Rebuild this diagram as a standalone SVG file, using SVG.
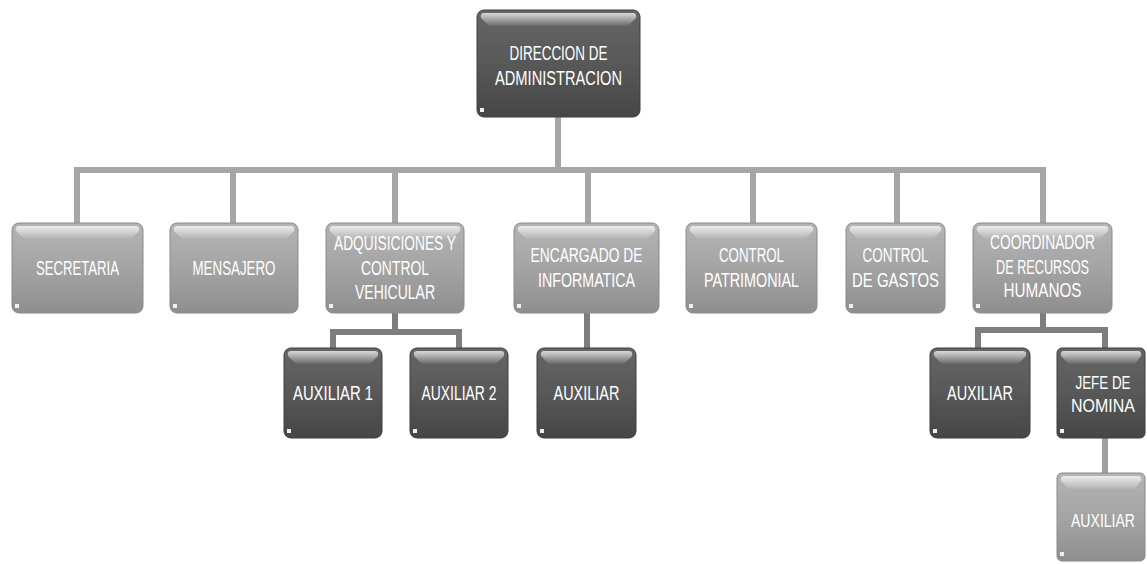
<svg xmlns="http://www.w3.org/2000/svg" width="1147" height="564" viewBox="0 0 1147 564">
<defs>
<linearGradient id="gLight" x1="0" y1="0" x2="0" y2="1">
<stop offset="0" stop-color="#b4b4b4"/>
<stop offset="0.5" stop-color="#a4a4a4"/>
<stop offset="1" stop-color="#8e8e8e"/>
</linearGradient>
<linearGradient id="gDark" x1="0" y1="0" x2="0" y2="1">
<stop offset="0" stop-color="#666666"/>
<stop offset="0.5" stop-color="#585858"/>
<stop offset="1" stop-color="#464646"/>
</linearGradient>
<linearGradient id="gHi" x1="0" y1="0" x2="0" y2="1">
<stop offset="0" stop-color="#ffffff" stop-opacity="0.75"/>
<stop offset="1" stop-color="#ffffff" stop-opacity="0.05"/>
</linearGradient>
<linearGradient id="gEdge" x1="0" y1="0" x2="0" y2="1">
<stop offset="0" stop-color="#ffffff" stop-opacity="0.2"/>
<stop offset="0.5" stop-color="#ffffff" stop-opacity="0.9"/>
<stop offset="1" stop-color="#ffffff" stop-opacity="0.3"/>
</linearGradient>
</defs>
<style>
.light{fill:url(#gLight);stroke:#8a8a8a;stroke-width:1}
.dark{fill:url(#gDark);stroke:#3e3e3e;stroke-width:1}
.hi{fill:url(#gHi)}
.edge{fill:none;stroke:url(#gEdge);stroke-width:2.2}
.dot{fill:#f0f0f0}
.t{font-family:"Liberation Sans",Arial,sans-serif;font-size:20px;fill:#ffffff;text-anchor:middle}
.ts{font-size:18px}
.main{fill:none;stroke:#a6a6a6;stroke-width:6;stroke-linejoin:miter}
.sub{fill:none;stroke:#7e7e7e;stroke-width:6;stroke-linejoin:miter}
.sub2{fill:none;stroke:#a0a0a0;stroke-width:6}
</style>
<rect width="1147" height="564" fill="#ffffff"/>
<g id="connectors">
<path class="main" d="M558 117 V170"/>
<path class="main" d="M77 223 V170 H1043 V223"/>
<path class="main" d="M233 170 V223 M395 170 V223 M588 170 V223 M753 170 V223 M897 170 V223"/>
<path class="sub" d="M395 313 V332"/>
<path class="sub" d="M333 348 V332 H459 V348"/>
<path class="sub" d="M587 313 V348"/>
<path class="sub" d="M1043 313 V330"/>
<path class="sub" d="M978 348 V330 H1105 V348"/>
<path class="sub2" d="M1105 438 V473"/>
</g>
<g id="n-direccion">
<rect class="dark" x="477" y="10" width="163" height="107" rx="7"/>
<path class="hi" d="M484 13 H633 Q637 13 636 18 L628 26 H489 L481 18 Q480 13 484 13 Z"/>
<path class="edge" d="M636 20 V108"/>
<rect class="dot" x="480" y="108" width="4" height="4"/>
<text class="t" x="558.5" y="60" textLength="98" lengthAdjust="spacingAndGlyphs">DIRECCION DE</text>
<text class="t" x="558.5" y="85" textLength="127" lengthAdjust="spacingAndGlyphs">ADMINISTRACION</text>
</g>
<g id="n-secretaria">
<rect class="light" x="12" y="223" width="131" height="90" rx="7"/>
<path class="hi" d="M19 226 H136 Q140 226 139 231 L131 239 H24 L16 231 Q15 226 19 226 Z"/>
<path class="edge" d="M139 233 V305"/>
<rect class="dot" x="15" y="304" width="4" height="4"/>
<text class="t" x="77.5" y="275" textLength="83" lengthAdjust="spacingAndGlyphs">SECRETARIA</text>
</g>
<g id="n-mensajero">
<rect class="light" x="170" y="223" width="128" height="90" rx="7"/>
<path class="hi" d="M177 226 H291 Q295 226 294 231 L286 239 H182 L174 231 Q173 226 177 226 Z"/>
<path class="edge" d="M294 233 V305"/>
<rect class="dot" x="173" y="304" width="4" height="4"/>
<text class="t" x="234" y="275" textLength="83" lengthAdjust="spacingAndGlyphs">MENSAJERO</text>
</g>
<g id="n-adquisiciones">
<rect class="light" x="326" y="223" width="138" height="90" rx="7"/>
<path class="hi" d="M333 226 H457 Q461 226 460 231 L452 239 H338 L330 231 Q329 226 333 226 Z"/>
<path class="edge" d="M460 233 V305"/>
<rect class="dot" x="329" y="304" width="4" height="4"/>
<text class="t" x="395" y="250" textLength="122" lengthAdjust="spacingAndGlyphs">ADQUISICIONES Y</text>
<text class="t" x="395" y="275" textLength="68" lengthAdjust="spacingAndGlyphs">CONTROL</text>
<text class="t" x="395" y="299" textLength="80" lengthAdjust="spacingAndGlyphs">VEHICULAR</text>
</g>
<g id="n-encargado">
<rect class="light" x="514" y="223" width="145" height="90" rx="7"/>
<path class="hi" d="M521 226 H652 Q656 226 655 231 L647 239 H526 L518 231 Q517 226 521 226 Z"/>
<path class="edge" d="M655 233 V305"/>
<rect class="dot" x="517" y="304" width="4" height="4"/>
<text class="t" x="586.5" y="262" textLength="112" lengthAdjust="spacingAndGlyphs">ENCARGADO DE</text>
<text class="t" x="586.5" y="287" textLength="97" lengthAdjust="spacingAndGlyphs">INFORMATICA</text>
</g>
<g id="n-patrimonial">
<rect class="light" x="686" y="223" width="131" height="90" rx="7"/>
<path class="hi" d="M693 226 H810 Q814 226 813 231 L805 239 H698 L690 231 Q689 226 693 226 Z"/>
<path class="edge" d="M813 233 V305"/>
<rect class="dot" x="689" y="304" width="4" height="4"/>
<text class="t" x="751.5" y="262" textLength="65" lengthAdjust="spacingAndGlyphs">CONTROL</text>
<text class="t" x="751.5" y="287" textLength="95" lengthAdjust="spacingAndGlyphs">PATRIMONIAL</text>
</g>
<g id="n-gastos">
<rect class="light" x="846" y="223" width="99" height="90" rx="7"/>
<path class="hi" d="M853 226 H938 Q942 226 941 231 L933 239 H858 L850 231 Q849 226 853 226 Z"/>
<path class="edge" d="M941 233 V305"/>
<rect class="dot" x="849" y="304" width="4" height="4"/>
<text class="t" x="895.5" y="262" textLength="66" lengthAdjust="spacingAndGlyphs">CONTROL</text>
<text class="t" x="895.5" y="287" textLength="87" lengthAdjust="spacingAndGlyphs">DE GASTOS</text>
</g>
<g id="n-coordinador">
<rect class="light" x="973" y="223" width="139" height="90" rx="7"/>
<path class="hi" d="M980 226 H1105 Q1109 226 1108 231 L1100 239 H985 L977 231 Q976 226 980 226 Z"/>
<path class="edge" d="M1108 233 V305"/>
<rect class="dot" x="976" y="304" width="4" height="4"/>
<text class="t" x="1042.5" y="249" textLength="105" lengthAdjust="spacingAndGlyphs">COORDINADOR</text>
<text class="t" x="1042.5" y="274" textLength="93" lengthAdjust="spacingAndGlyphs">DE RECURSOS</text>
<text class="t" x="1042.5" y="297" textLength="78" lengthAdjust="spacingAndGlyphs">HUMANOS</text>
</g>
<g id="n-auxiliar1">
<rect class="dark" x="284" y="348" width="98" height="90" rx="7"/>
<path class="hi" d="M291 351 H375 Q379 351 378 356 L370 364 H296 L288 356 Q287 351 291 351 Z"/>
<path class="edge" d="M378 358 V430"/>
<rect class="dot" x="287" y="429" width="4" height="4"/>
<text class="t" x="333" y="400" textLength="80" lengthAdjust="spacingAndGlyphs">AUXILIAR 1</text>
</g>
<g id="n-auxiliar2">
<rect class="dark" x="410" y="348" width="98" height="90" rx="7"/>
<path class="hi" d="M417 351 H501 Q505 351 504 356 L496 364 H422 L414 356 Q413 351 417 351 Z"/>
<path class="edge" d="M504 358 V430"/>
<rect class="dot" x="413" y="429" width="4" height="4"/>
<text class="t" x="459" y="400" textLength="75" lengthAdjust="spacingAndGlyphs">AUXILIAR 2</text>
</g>
<g id="n-auxiliar-inf">
<rect class="dark" x="537" y="348" width="99" height="90" rx="7"/>
<path class="hi" d="M544 351 H629 Q633 351 632 356 L624 364 H549 L541 356 Q540 351 544 351 Z"/>
<path class="edge" d="M632 358 V430"/>
<rect class="dot" x="540" y="429" width="4" height="4"/>
<text class="t" x="586.5" y="400" textLength="66" lengthAdjust="spacingAndGlyphs">AUXILIAR</text>
</g>
<g id="n-auxiliar-rh">
<rect class="dark" x="930" y="348" width="100" height="90" rx="7"/>
<path class="hi" d="M937 351 H1023 Q1027 351 1026 356 L1018 364 H942 L934 356 Q933 351 937 351 Z"/>
<path class="edge" d="M1026 358 V430"/>
<rect class="dot" x="933" y="429" width="4" height="4"/>
<text class="t" x="980" y="400" textLength="66" lengthAdjust="spacingAndGlyphs">AUXILIAR</text>
</g>
<g id="n-jefe-nomina">
<rect class="dark" x="1057" y="348" width="88" height="90" rx="5"/>
<path class="hi" d="M1064 351 H1138 Q1142 351 1141 356 L1135 364 H1069 L1061 356 Q1060 351 1064 351 Z"/>
<rect class="dot" x="1060" y="429" width="4" height="4"/>
<text class="t ts" x="1103" y="389" textLength="55" lengthAdjust="spacingAndGlyphs">JEFE DE</text>
<text class="t ts" x="1103" y="412" textLength="64" lengthAdjust="spacingAndGlyphs">NOMINA</text>
</g>
<g id="n-auxiliar-nomina">
<rect class="light" x="1057" y="473" width="88" height="88" rx="5"/>
<path class="hi" d="M1064 476 H1138 Q1142 476 1141 481 L1135 489 H1069 L1061 481 Q1060 476 1064 476 Z"/>
<rect class="dot" x="1060" y="552" width="4" height="4"/>
<text class="t ts" x="1103" y="527" textLength="64" lengthAdjust="spacingAndGlyphs">AUXILIAR</text>
</g>
</svg>
